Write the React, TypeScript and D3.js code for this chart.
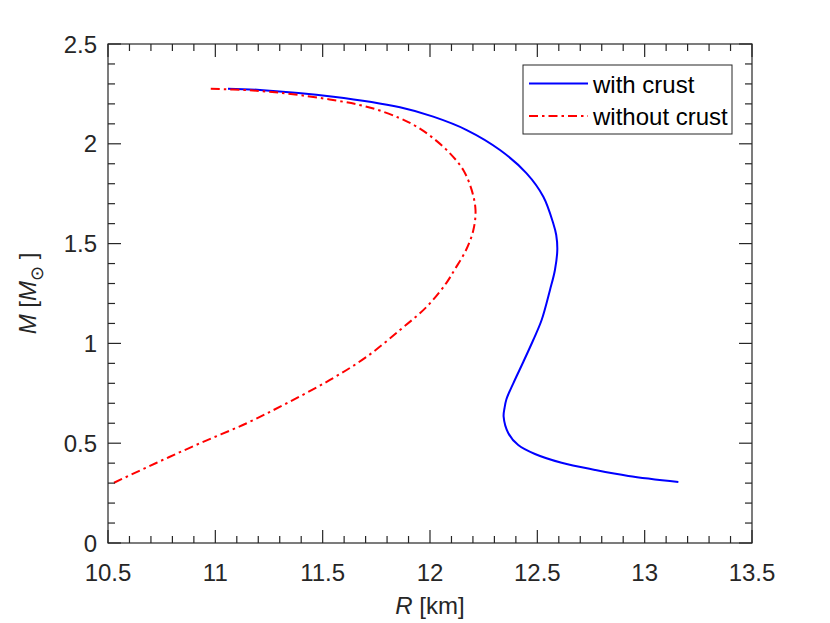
import { useEffect, useRef } from 'react';
import * as d3 from 'd3';

// mass-radius curves, ordered from the low-mass end up to the maximum mass
const withCrustR = [13.157, 12.924, 12.769, 12.613, 12.489, 12.411, 12.365, 12.343, 12.347, 12.356, 12.388, 12.435, 12.481, 12.52, 12.559, 12.582, 12.593, 12.588, 12.574, 12.528, 12.45, 12.326, 12.171, 12.015, 11.86, 11.55, 11.208, 11.059];
const withCrustM = [0.306, 0.336, 0.366, 0.402, 0.446, 0.491, 0.55, 0.633, 0.675, 0.72, 0.80, 0.908, 1.017, 1.117, 1.268, 1.368, 1.468, 1.543, 1.602, 1.735, 1.852, 1.969, 2.069, 2.136, 2.183, 2.236, 2.27, 2.276];

const noCrustR = [10.528, 10.727, 10.929, 11.146, 11.332, 11.534, 11.705, 11.86, 11.985, 12.075, 12.114, 12.168, 12.202, 12.212, 12.194, 12.155, 12.093, 12.015, 11.938, 11.86, 11.705, 11.394, 11.161, 10.96];
const noCrustM = [0.302, 0.402, 0.50, 0.60, 0.70, 0.817, 0.933, 1.067, 1.184, 1.301, 1.368, 1.468, 1.568, 1.668, 1.769, 1.869, 1.952, 2.028, 2.086, 2.128, 2.186, 2.244, 2.268, 2.276];

const xTicks = [10.5, 11, 11.5, 12, 12.5, 13, 13.5];
const yTicks = [0, 0.5, 1, 1.5, 2, 2.5];

const W = 830;
const H = 623;

export default function App() {
  const svgRef = useRef<SVGSVGElement>(null);

  useEffect(() => {
    if (!svgRef.current) return;
    const svg = d3.select(svgRef.current);
    svg.selectAll('*').remove();

    const margin = { top: 44, right: 78, bottom: 80, left: 108 };
    const axisColor = '#262626';
    const font = '"Liberation Sans", Arial, Helvetica, sans-serif';

    const x = d3.scaleLinear().domain([10.5, 13.5]).range([margin.left, W - margin.right]);
    const y = d3.scaleLinear().domain([0, 2.5]).range([H - margin.bottom, margin.top]);
    const [x0, x1] = x.range();
    const [y0, y1] = y.range();

    svg.append('rect').attr('width', W).attr('height', H).attr('fill', '#fff');

    // curves
    const line = d3.line<[number, number]>()
      .x(d => x(d[0]))
      .y(d => y(d[1]))
      .curve(d3.curveCatmullRom.alpha(0.5));

    const blue = withCrustR.map((r, i) => [r, withCrustM[i]] as [number, number]);
    const red = noCrustR.map((r, i) => [r, noCrustM[i]] as [number, number]);

    svg.append('path')
      .attr('d', line(blue))
      .attr('fill', 'none')
      .attr('stroke', '#0000ff')
      .attr('stroke-width', 2);

    svg.append('path')
      .attr('d', line(red))
      .attr('fill', 'none')
      .attr('stroke', '#ff0000')
      .attr('stroke-width', 2)
      .attr('stroke-dasharray', '9,4,2.5,4');

    // box + inward ticks on all four sides
    const g = svg.append('g').attr('stroke', axisColor).attr('stroke-width', 1.2);
    g.append('rect')
      .attr('x', x0).attr('y', y1)
      .attr('width', x1 - x0).attr('height', y0 - y1)
      .attr('fill', 'none');

    const xMinor = d3.range(105, 136).map(v => v / 10);
    const yMinor = d3.range(0, 26).map(v => v / 10);
    const isMajor = (v: number) => Math.abs(v * 2 - Math.round(v * 2)) < 1e-6;

    xMinor.forEach(v => {
      const len = isMajor(v) ? 13 : 7;
      g.append('line').attr('x1', x(v)).attr('x2', x(v)).attr('y1', y0).attr('y2', y0 - len);
      g.append('line').attr('x1', x(v)).attr('x2', x(v)).attr('y1', y1).attr('y2', y1 + len);
    });
    yMinor.forEach(v => {
      const len = isMajor(v) ? 13 : 7;
      g.append('line').attr('y1', y(v)).attr('y2', y(v)).attr('x1', x0).attr('x2', x0 + len);
      g.append('line').attr('y1', y(v)).attr('y2', y(v)).attr('x1', x1).attr('x2', x1 - len);
    });

    // tick labels
    svg.append('g').selectAll('text')
      .data(xTicks)
      .join('text')
      .attr('x', d => x(d))
      .attr('y', y0 + 38)
      .attr('text-anchor', 'middle')
      .attr('font-family', font)
      .attr('font-size', 24)
      .attr('fill', axisColor)
      .text(d => String(d));

    svg.append('g').selectAll('text')
      .data(yTicks)
      .join('text')
      .attr('x', x0 - 11)
      .attr('y', d => y(d) + 8.5)
      .attr('text-anchor', 'end')
      .attr('font-family', font)
      .attr('font-size', 24)
      .attr('fill', axisColor)
      .text(d => String(d));

    // axis labels
    const xl = svg.append('text')
      .attr('x', (x0 + x1) / 2)
      .attr('y', 614)
      .attr('text-anchor', 'middle')
      .attr('font-family', font)
      .attr('font-size', 24)
      .attr('fill', axisColor);
    xl.append('tspan').attr('font-style', 'italic').text('R');
    xl.append('tspan').text(' [km]');

    const yl = svg.append('text')
      .attr('transform', `translate(36,${(y0 + y1) / 2}) rotate(-90)`)
      .attr('text-anchor', 'middle')
      .attr('font-family', font)
      .attr('font-size', 24)
      .attr('fill', axisColor);
    yl.append('tspan').attr('font-style', 'italic').text('M');
    yl.append('tspan').text(' [');
    yl.append('tspan').attr('font-style', 'italic').text('M');
    yl.append('tspan').attr('font-size', 18).attr('dy', 7).text('⊙');
    yl.append('tspan').attr('dy', -7).text(' ]');

    // legend
    const lg = svg.append('g');
    lg.append('rect')
      .attr('x', 523).attr('y', 65)
      .attr('width', 209).attr('height', 69)
      .attr('fill', '#fff')
      .attr('stroke', axisColor)
      .attr('stroke-width', 1);
    const items = [
      { label: 'with crust', color: '#0000ff', dash: null as string | null, yy: 83.5 },
      { label: 'without crust', color: '#ff0000', dash: '9,4,2.5,4', yy: 116 },
    ];
    items.forEach(it => {
      lg.append('line')
        .attr('x1', 529).attr('x2', 588)
        .attr('y1', it.yy).attr('y2', it.yy)
        .attr('stroke', it.color)
        .attr('stroke-width', 2)
        .attr('stroke-dasharray', it.dash);
      lg.append('text')
        .attr('x', 593)
        .attr('y', it.yy + 9)
        .attr('font-family', font)
        .attr('font-size', 24)
        .attr('fill', '#000')
        .text(it.label);
    });
  }, []);

  return (
    <div style={{ position: 'absolute', left: 0, top: 0 }}>
      <svg ref={svgRef} width={W} height={H} style={{ display: 'block' }} />
    </div>
  );
}
